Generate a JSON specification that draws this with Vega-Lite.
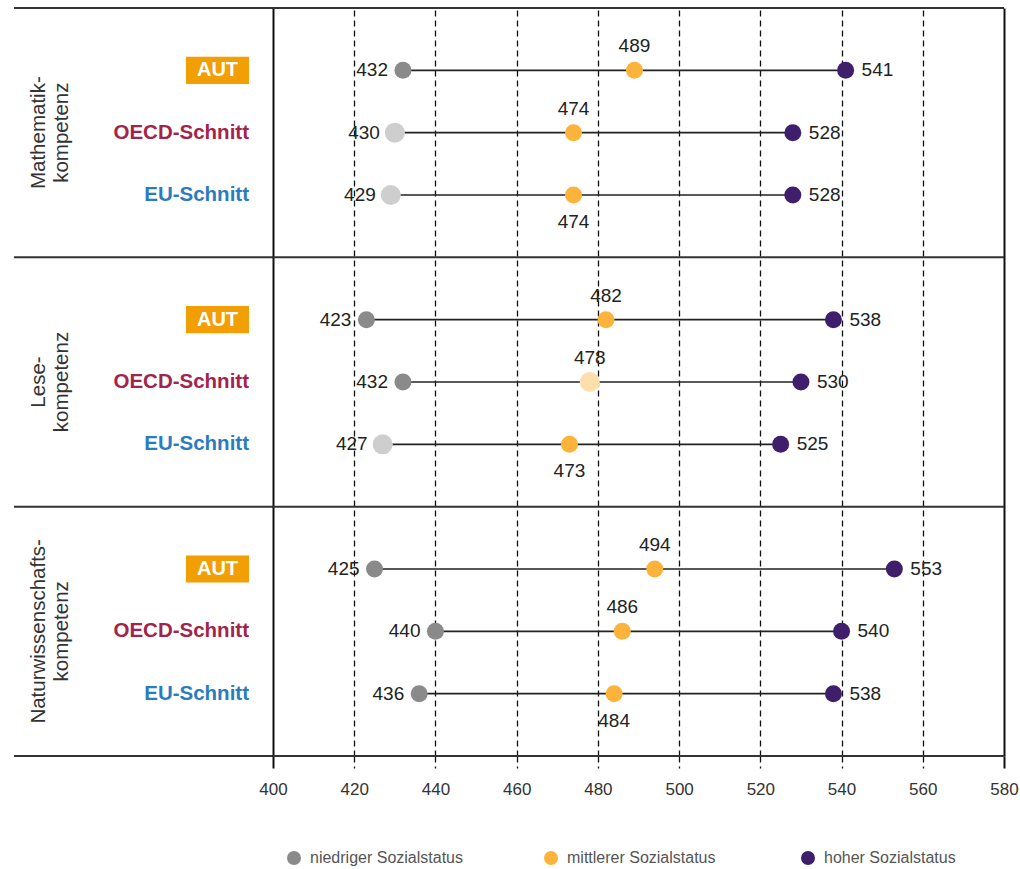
{
  "$schema": "https://vega.github.io/schema/vega-lite/v6.json",
  "padding": {"left": 13, "top": 7, "right": 0, "bottom": 0},
  "bounds": "flush",
  "spacing": 0,
  "config": {"view": {"stroke": null}, "font": "Liberation Sans"},
  "datasets": {
    "werte": [
      {"kompetenz": "Mathematikkompetenz", "gruppe": "AUT", "status": "niedriger Sozialstatus", "wert": 432, "abgeschwaecht": false},
      {"kompetenz": "Mathematikkompetenz", "gruppe": "AUT", "status": "mittlerer Sozialstatus", "wert": 489, "abgeschwaecht": false},
      {"kompetenz": "Mathematikkompetenz", "gruppe": "AUT", "status": "hoher Sozialstatus", "wert": 541, "abgeschwaecht": false},
      {"kompetenz": "Mathematikkompetenz", "gruppe": "OECD-Schnitt", "status": "niedriger Sozialstatus", "wert": 430, "abgeschwaecht": true},
      {"kompetenz": "Mathematikkompetenz", "gruppe": "OECD-Schnitt", "status": "mittlerer Sozialstatus", "wert": 474, "abgeschwaecht": false},
      {"kompetenz": "Mathematikkompetenz", "gruppe": "OECD-Schnitt", "status": "hoher Sozialstatus", "wert": 528, "abgeschwaecht": false},
      {"kompetenz": "Mathematikkompetenz", "gruppe": "EU-Schnitt", "status": "niedriger Sozialstatus", "wert": 429, "abgeschwaecht": true},
      {"kompetenz": "Mathematikkompetenz", "gruppe": "EU-Schnitt", "status": "mittlerer Sozialstatus", "wert": 474, "abgeschwaecht": false},
      {"kompetenz": "Mathematikkompetenz", "gruppe": "EU-Schnitt", "status": "hoher Sozialstatus", "wert": 528, "abgeschwaecht": false},
      {"kompetenz": "Lesekompetenz", "gruppe": "AUT", "status": "niedriger Sozialstatus", "wert": 423, "abgeschwaecht": false},
      {"kompetenz": "Lesekompetenz", "gruppe": "AUT", "status": "mittlerer Sozialstatus", "wert": 482, "abgeschwaecht": false},
      {"kompetenz": "Lesekompetenz", "gruppe": "AUT", "status": "hoher Sozialstatus", "wert": 538, "abgeschwaecht": false},
      {"kompetenz": "Lesekompetenz", "gruppe": "OECD-Schnitt", "status": "niedriger Sozialstatus", "wert": 432, "abgeschwaecht": false},
      {"kompetenz": "Lesekompetenz", "gruppe": "OECD-Schnitt", "status": "mittlerer Sozialstatus", "wert": 478, "abgeschwaecht": true},
      {"kompetenz": "Lesekompetenz", "gruppe": "OECD-Schnitt", "status": "hoher Sozialstatus", "wert": 530, "abgeschwaecht": false},
      {"kompetenz": "Lesekompetenz", "gruppe": "EU-Schnitt", "status": "niedriger Sozialstatus", "wert": 427, "abgeschwaecht": true},
      {"kompetenz": "Lesekompetenz", "gruppe": "EU-Schnitt", "status": "mittlerer Sozialstatus", "wert": 473, "abgeschwaecht": false},
      {"kompetenz": "Lesekompetenz", "gruppe": "EU-Schnitt", "status": "hoher Sozialstatus", "wert": 525, "abgeschwaecht": false},
      {"kompetenz": "Naturwissenschaftskompetenz", "gruppe": "AUT", "status": "niedriger Sozialstatus", "wert": 425, "abgeschwaecht": false},
      {"kompetenz": "Naturwissenschaftskompetenz", "gruppe": "AUT", "status": "mittlerer Sozialstatus", "wert": 494, "abgeschwaecht": false},
      {"kompetenz": "Naturwissenschaftskompetenz", "gruppe": "AUT", "status": "hoher Sozialstatus", "wert": 553, "abgeschwaecht": false},
      {"kompetenz": "Naturwissenschaftskompetenz", "gruppe": "OECD-Schnitt", "status": "niedriger Sozialstatus", "wert": 440, "abgeschwaecht": false},
      {"kompetenz": "Naturwissenschaftskompetenz", "gruppe": "OECD-Schnitt", "status": "mittlerer Sozialstatus", "wert": 486, "abgeschwaecht": false},
      {"kompetenz": "Naturwissenschaftskompetenz", "gruppe": "OECD-Schnitt", "status": "hoher Sozialstatus", "wert": 540, "abgeschwaecht": false},
      {"kompetenz": "Naturwissenschaftskompetenz", "gruppe": "EU-Schnitt", "status": "niedriger Sozialstatus", "wert": 436, "abgeschwaecht": false},
      {"kompetenz": "Naturwissenschaftskompetenz", "gruppe": "EU-Schnitt", "status": "mittlerer Sozialstatus", "wert": 484, "abgeschwaecht": false},
      {"kompetenz": "Naturwissenschaftskompetenz", "gruppe": "EU-Schnitt", "status": "hoher Sozialstatus", "wert": 538, "abgeschwaecht": false}
    ],
    "trenner": [{"grenze": 0}, {"grenze": 4}, {"grenze": 8}, {"grenze": 12}]
  },
  "data": {"name": "werte"},
  "transform": [
    {"calculate": "indexof(['Mathematikkompetenz','Lesekompetenz','Naturwissenschaftskompetenz'], datum.kompetenz) * 4 + indexof(['AUT','OECD-Schnitt','EU-Schnitt'], datum.gruppe) + 1", "as": "zeile"}
  ],
  "hconcat": [
    {
      "width": 259,
      "height": 748,
      "layer": [
        {
          "data": {"name": "trenner"},
          "mark": {"type": "rule", "color": "#333333", "strokeWidth": 2},
          "encoding": {"y": {"field": "grenze", "type": "quantitative", "scale": {"domain": [0, 12], "reverse": true, "nice": false}, "axis": null}}
        },
        {
          "transform": [
            {"filter": "datum.status == 'mittlerer Sozialstatus' && datum.gruppe == 'OECD-Schnitt'"},
            {"calculate": "replace(datum.kompetenz, 'kompetenz', '-|kompetenz')", "as": "titel"}
          ],
          "mark": {"type": "text", "angle": 270, "align": "center", "baseline": "middle", "lineBreak": "|", "fontSize": 20.5, "lineHeight": 23, "x": 25, "color": "#333333"},
          "encoding": {
            "y": {"field": "zeile", "type": "quantitative", "scale": {"domain": [0, 12], "reverse": true, "nice": false}, "axis": null},
            "text": {"field": "titel", "type": "nominal"}
          }
        },
        {
          "transform": [{"filter": "datum.status == 'mittlerer Sozialstatus' && datum.gruppe == 'AUT'"}],
          "mark": {"type": "point", "shape": "M-1,-0.43L1,-0.43L1,0.43L-1,0.43Z", "size": 3969, "filled": true, "color": "#f29e05", "opacity": 1, "strokeWidth": 0, "x": 203.5},
          "encoding": {"y": {"field": "zeile", "type": "quantitative", "scale": {"domain": [0, 12], "reverse": true, "nice": false}, "axis": null}}
        },
        {
          "transform": [{"filter": "datum.status == 'mittlerer Sozialstatus' && datum.gruppe == 'AUT'"}],
          "mark": {"type": "text", "align": "center", "baseline": "middle", "fontWeight": "bold", "fontSize": 20, "color": "white", "x": 203.5},
          "encoding": {
            "y": {"field": "zeile", "type": "quantitative", "scale": {"domain": [0, 12], "reverse": true, "nice": false}, "axis": null},
            "text": {"field": "gruppe", "type": "nominal"}
          }
        },
        {
          "transform": [{"filter": "datum.status == 'mittlerer Sozialstatus' && datum.gruppe != 'AUT'"}],
          "mark": {"type": "text", "align": "right", "baseline": "middle", "fontWeight": "bold", "fontSize": 20.5, "x": 235},
          "encoding": {
            "y": {"field": "zeile", "type": "quantitative", "scale": {"domain": [0, 12], "reverse": true, "nice": false}, "axis": null},
            "text": {"field": "gruppe", "type": "nominal"},
            "color": {"condition": {"test": "datum.gruppe == 'OECD-Schnitt'", "value": "#a3234b"}, "value": "#2b7bbf"}
          }
        }
      ]
    },
    {
      "width": 731,
      "height": 748,
      "layer": [
        {
          "data": {"name": "trenner"},
          "mark": {"type": "rule", "color": "#333333", "strokeWidth": 2},
          "encoding": {"y": {"field": "grenze", "type": "quantitative", "scale": {"domain": [0, 12], "reverse": true, "nice": false}, "axis": null}}
        },
        {
          "transform": [
            {"aggregate": [{"op": "min", "field": "wert", "as": "von"}, {"op": "max", "field": "wert", "as": "bis"}], "groupby": ["zeile"]}
          ],
          "mark": {"type": "rule", "color": "#222222", "strokeWidth": 1.6},
          "encoding": {
            "x": {
              "field": "von", "type": "quantitative",
              "scale": {"domain": [400, 580], "nice": false, "zero": false},
              "axis": {
                "values": [400, 420, 440, 460, 480, 500, 520, 540, 560, 580],
                "title": null,
                "domain": false,
                "grid": true,
                "gridColor": "#111111",
                "gridOpacity": 1,
                "gridWidth": {"condition": {"test": "datum.value == 400 || datum.value == 580", "value": 2}, "value": 1.3},
                "gridDash": {"condition": {"test": "datum.value == 400 || datum.value == 580", "value": []}, "value": [6, 4]},
                "tickColor": "#111111",
                "tickSize": 12,
                "tickWidth": {"condition": {"test": "datum.value == 400 || datum.value == 580", "value": 2}, "value": 1.3},
                "tickDash": {"condition": {"test": "datum.value == 400 || datum.value == 580", "value": []}, "value": [6, 4]},
                "labelFont": "Liberation Sans",
                "labelFontSize": 17,
                "labelColor": "#333333",
                "labelPadding": 13,
                "labelFlush": false,
                "labelOverlap": false
              }
            },
            "x2": {"field": "bis"},
            "y": {"field": "zeile", "type": "quantitative", "scale": {"domain": [0, 12], "reverse": true, "nice": false}, "axis": null}
          }
        },
        {
          "transform": [{"filter": "datum.abgeschwaecht"}],
          "mark": {"type": "circle", "size": 400, "color": "white", "opacity": 1},
          "encoding": {
            "x": {"field": "wert", "type": "quantitative"},
            "y": {"field": "zeile", "type": "quantitative"}
          }
        },
        {
          "transform": [{"filter": "!datum.abgeschwaecht"}],
          "mark": {"type": "circle", "size": 289, "opacity": 1},
          "encoding": {
            "x": {"field": "wert", "type": "quantitative"},
            "y": {"field": "zeile", "type": "quantitative"},
            "color": {
              "field": "status", "type": "nominal",
              "scale": {"domain": ["niedriger Sozialstatus", "mittlerer Sozialstatus", "hoher Sozialstatus"], "range": ["#8a8a8a", "#fbb33b", "#3f1f6b"]},
              "legend": {
                "title": null, "orient": "none", "direction": "horizontal",
                "legendX": 272, "legendY": 842,
                "symbolType": "circle", "symbolSize": 196, "symbolOpacity": 1,
                "labelFontSize": 16, "labelColor": "#555555",
                "columnPadding": 80, "labelOffset": 8, "gridAlign": "all",
                "encode": {"symbols": {"update": {"opacity": {"value": 1}, "fillOpacity": {"value": 1}}}}
              }
            }
          }
        },
        {
          "transform": [{"filter": "datum.abgeschwaecht"}],
          "mark": {"type": "circle", "size": 400, "opacity": 0.42},
          "encoding": {
            "x": {"field": "wert", "type": "quantitative"},
            "y": {"field": "zeile", "type": "quantitative"},
            "color": {"field": "status", "type": "nominal"}
          }
        },
        {
          "transform": [{"filter": "datum.status == 'niedriger Sozialstatus'"}],
          "mark": {"type": "text", "align": "right", "baseline": "middle", "dx": -15, "fontSize": 19, "color": "#222222"},
          "encoding": {
            "x": {"field": "wert", "type": "quantitative"},
            "y": {"field": "zeile", "type": "quantitative"},
            "text": {"field": "wert", "type": "quantitative"}
          }
        },
        {
          "transform": [{"filter": "datum.status == 'hoher Sozialstatus'"}],
          "mark": {"type": "text", "align": "left", "baseline": "middle", "dx": 16, "fontSize": 19, "color": "#222222"},
          "encoding": {
            "x": {"field": "wert", "type": "quantitative"},
            "y": {"field": "zeile", "type": "quantitative"},
            "text": {"field": "wert", "type": "quantitative"}
          }
        },
        {
          "transform": [{"filter": "datum.status == 'mittlerer Sozialstatus' && datum.gruppe != 'EU-Schnitt'"}],
          "mark": {"type": "text", "align": "center", "baseline": "middle", "dy": -24, "fontSize": 19, "color": "#222222"},
          "encoding": {
            "x": {"field": "wert", "type": "quantitative"},
            "y": {"field": "zeile", "type": "quantitative"},
            "text": {"field": "wert", "type": "quantitative"}
          }
        },
        {
          "transform": [{"filter": "datum.status == 'mittlerer Sozialstatus' && datum.gruppe == 'EU-Schnitt'"}],
          "mark": {"type": "text", "align": "center", "baseline": "middle", "dy": 27, "fontSize": 19, "color": "#222222"},
          "encoding": {
            "x": {"field": "wert", "type": "quantitative"},
            "y": {"field": "zeile", "type": "quantitative"},
            "text": {"field": "wert", "type": "quantitative"}
          }
        }
      ]
    }
  ]
}
